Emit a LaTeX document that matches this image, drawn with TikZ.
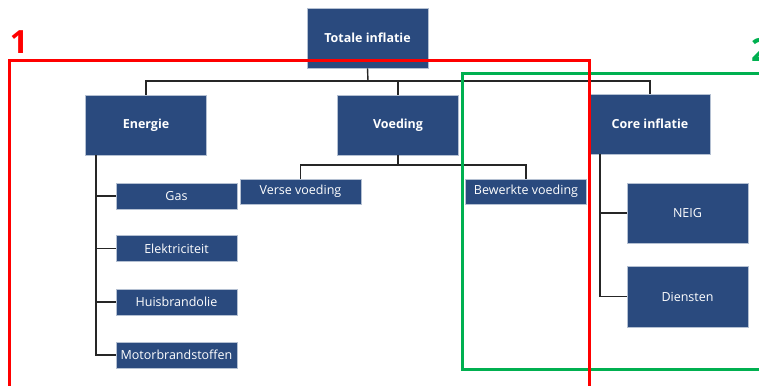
\documentclass[tikz,border=0pt]{standalone}
\usepackage{fontspec}
\setmainfont{Open Sans}
\usepackage{tikz}
\usetikzlibrary{positioning, calc}

\definecolor{boxblue}{RGB}{42,74,126}
\definecolor{framered}{RGB}{255,0,0}
\definecolor{framegreen}{RGB}{0,176,80}

\tikzset{
  catbox/.style={fill=boxblue, draw=boxblue!35!white, line width=0.8pt,
    text=white, font=\fontsize{12.5}{14}\selectfont\bfseries,
    inner sep=0pt, minimum width=121pt, minimum height=60pt},
  subbox/.style={fill=boxblue, draw=boxblue!35!white, line width=0.8pt,
    text=white, font=\fontsize{12.5}{14}\selectfont,
    inner sep=0pt, minimum width=121pt, minimum height=26pt},
  link/.style={line width=1.4pt, black!85},
  frame/.style={line width=3pt},
}

\begin{document}
\begin{tikzpicture}[x=1pt, y=-1pt]
\useasboundingbox (0,0) rectangle (759,385);
\clip (0,0) rectangle (759,385);
% Top level
\node[catbox] (tot) at (367.5,38) {Totale inflatie};
% Main groups
\node[catbox] (ener) at (146,125) {Energie};
\node[catbox] (voed) at (398,125) {Voeding};
\node[catbox] (core) at (650,124) {Core inflatie};
% Energie parts
\node[subbox] (gas) at (176.5,196) {Gas};
\node[subbox] (elek) at (176.5,248.5) {Elektriciteit};
\node[subbox] (huis) at (176.5,302) {Huisbrandolie};
\node[subbox] (motor) at (176.5,355) {Motorbrandstoffen};
% Voeding parts
\node[subbox, minimum height=25pt] (verse) at (300.5,191.5) {Verse voeding};
\node[subbox, minimum height=25pt] (bewerkt) at (526,191.5) {Bewerkte voeding};
% Core parts
\node[subbox, minimum height=60pt] (neig) at (687.5,213) {NEIG};
\node[subbox, minimum height=61pt] (dienst) at (687.5,296.5) {Diensten};
% Connectors
\coordinate (hub) at (368,81);
\coordinate (vsplit) at (398,165);
\coordinate (etop) at (96,155);
\coordinate (ctop) at (600,154);
\draw[link] (tot.south) -- (hub);
\draw[link] (ener.north) |- (hub) -| (core.north);
\draw[link] (voed.north) -- (voed.north |- hub);
\draw[link] (voed.south) -- (vsplit);
\draw[link] (verse.north) |- (vsplit) -| (bewerkt.north);
\draw[link] (etop) |- (motor.west);
\foreach \part in {gas, elek, huis}
  \draw[link] (etop |- \part.west) -- (\part.west);
\draw[link] (ctop) |- (dienst.west);
\draw[link] (ctop |- neig.west) -- (neig.west);
% Group frames
\draw[frame, framegreen] (462,74) rectangle (775,369);
\draw[frame, framered] (9,61) rectangle (589,395);
\node[framered, font=\fontsize{32}{34}\selectfont\bfseries, inner sep=0pt] (lab1) at (19,42) {1};
\node[framegreen, font=\fontsize{32}{34}\selectfont\bfseries, inner sep=0pt, anchor=west] (lab2) at (751,50) {2};
\end{tikzpicture}
\end{document}
